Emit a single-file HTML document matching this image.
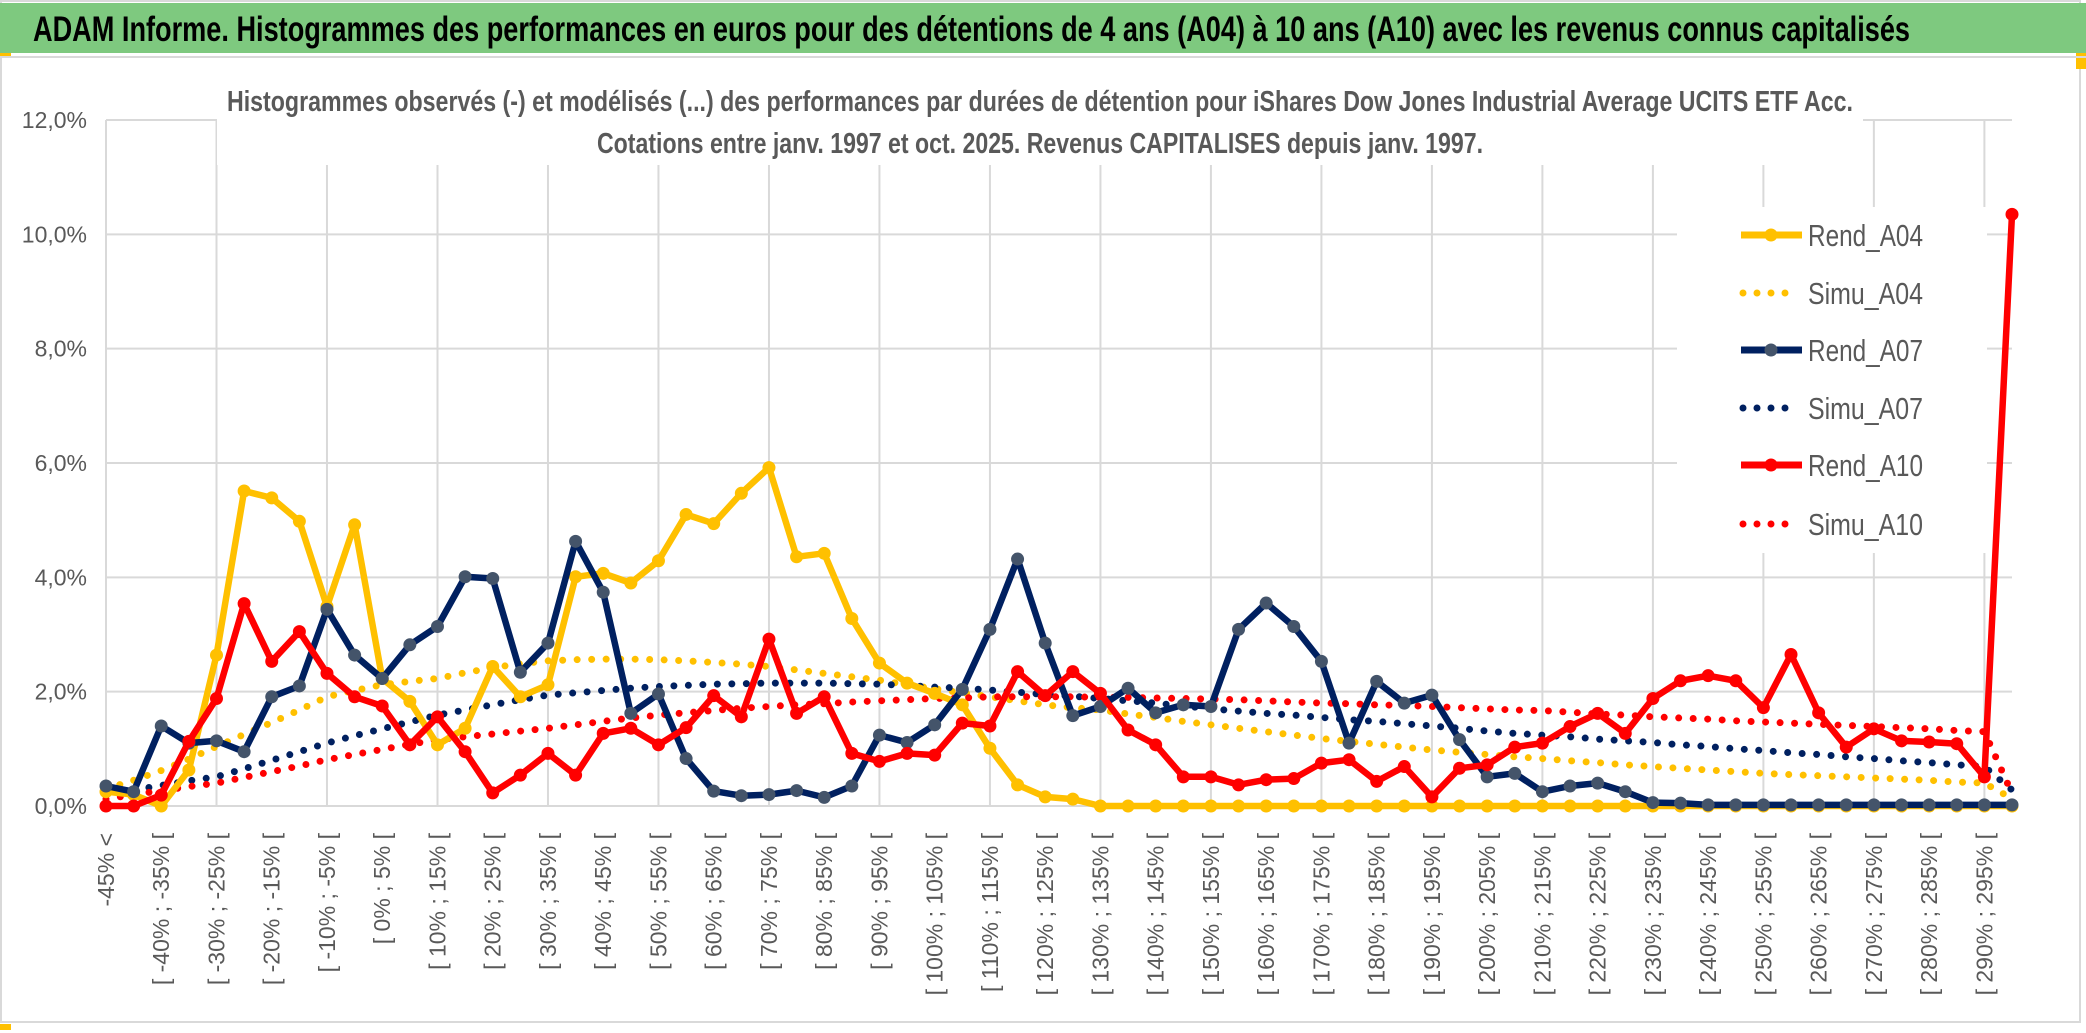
<!DOCTYPE html>
<html><head><meta charset="utf-8"><style>
html,body{margin:0;padding:0;background:#fff;}
svg{display:block;}
</style></head><body>
<svg id="chart" width="2086" height="1033" viewBox="0 0 2086 1033" xmlns="http://www.w3.org/2000/svg" font-family="'Liberation Sans Narrow','Liberation Sans',sans-serif">
  <rect x="0" y="0" width="2086" height="1033" fill="#fff"/>
  <rect x="1" y="1" width="2079" height="1021" fill="none" stroke="#d9d9d9" stroke-width="2"/>
  <rect x="0" y="3" width="2086" height="50" fill="#7ec97f"/>
  <rect x="0" y="53" width="11" height="3" fill="#ffc000"/>
  <rect x="2076" y="53" width="10" height="16" fill="#ffc000"/>
  <rect x="0" y="1024" width="11" height="6" fill="#ffc000"/>
  <line x1="0" y1="57" x2="2086" y2="57" stroke="#d9d9d9" stroke-width="2"/>
  <text x="33" y="41" font-size="35" font-weight="bold" fill="#000" textLength="1877" lengthAdjust="spacingAndGlyphs">ADAM Informe. Histogrammes des performances en euros pour des détentions de 4 ans (A04) à 10 ans (A10) avec les revenus connus capitalisés</text>
  <g id="plot"></g>
  <rect x="217" y="95" width="1646" height="70" fill="#fff"/>
  <text x="227" y="111" font-size="29" font-weight="bold" fill="#595959" textLength="1626" lengthAdjust="spacingAndGlyphs">Histogrammes observés (-) et modélisés (...) des performances par durées de détention pour iShares Dow Jones Industrial Average UCITS ETF Acc.</text>
  <text x="597" y="153" font-size="29" font-weight="bold" fill="#595959" textLength="886" lengthAdjust="spacingAndGlyphs">Cotations entre janv. 1997 et oct. 2025. Revenus CAPITALISES depuis janv. 1997.</text>
  <g id="legend"></g>
</svg>
<script>
const categories = (function(){const a=["-45% <"];for(let k=1;k<70;k++){if(k%2===0){const lo=-40+5*(k-2);a.push("[ "+lo+"% ; "+(lo+5)+"% [");}else{a.push("");}}return a;})();
const yTicks = [0,2,4,6,8,10,12];
const yTickLabels = ["0,0%","2,0%","4,0%","6,0%","8,0%","10,0%","12,0%"];
const rendA04 = [0.25,0.2,0,0.63,2.64,5.51,5.39,4.98,3.49,4.92,2.23,1.83,1.07,1.36,2.44,1.91,2.12,4.01,4.07,3.90,4.29,5.10,4.94,5.47,5.92,4.36,4.42,3.28,2.50,2.15,1.97,1.77,1.01,0.37,0.16,0.12,0,0,0,0,0,0,0,0,0,0,0,0,0,0,0,0,0,0,0,0,0,0,0,0,0,0,0,0,0,0,0,0,0,0];
const rendA07 = [0.35,0.25,1.40,1.10,1.14,0.95,1.91,2.10,3.44,2.64,2.23,2.82,3.14,4.01,3.98,2.34,2.85,4.63,3.74,1.62,1.96,0.83,0.26,0.18,0.20,0.27,0.15,0.35,1.24,1.11,1.42,2.04,3.09,4.32,2.85,1.58,1.74,2.06,1.63,1.77,1.74,3.09,3.55,3.14,2.53,1.10,2.18,1.80,1.94,1.16,0.51,0.57,0.25,0.35,0.40,0.25,0.06,0.05,0.02,0.02,0.02,0.02,0.02,0.02,0.02,0.02,0.02,0.02,0.02,0.02];
const rendA10 = [0,0,0.19,1.13,1.88,3.54,2.53,3.05,2.32,1.91,1.75,1.07,1.56,0.95,0.23,0.54,0.92,0.54,1.27,1.36,1.07,1.37,1.93,1.56,2.92,1.62,1.91,0.92,0.78,0.92,0.89,1.45,1.40,2.35,1.93,2.35,1.97,1.33,1.07,0.51,0.51,0.37,0.46,0.48,0.75,0.81,0.43,0.69,0.16,0.66,0.72,1.03,1.10,1.39,1.62,1.27,1.88,2.19,2.28,2.19,1.72,2.65,1.63,1.03,1.35,1.14,1.12,1.09,0.51,10.35];
const simuA04 = [0.30,0.45,0.62,0.82,1.04,1.25,1.46,1.68,1.91,2.02,2.12,2.18,2.23,2.33,2.42,2.49,2.54,2.56,2.57,2.57,2.56,2.54,2.51,2.48,2.44,2.38,2.32,2.26,2.20,2.12,2.05,1.98,1.91,1.84,1.77,1.72,1.68,1.61,1.55,1.48,1.42,1.36,1.30,1.24,1.18,1.13,1.08,1.03,0.98,0.94,0.90,0.86,0.83,0.79,0.76,0.72,0.69,0.66,0.63,0.60,0.57,0.55,0.53,0.51,0.49,0.47,0.45,0.42,0.40,0.13];
const simuA07 = [0.20,0.28,0.36,0.44,0.51,0.65,0.80,0.95,1.10,1.23,1.35,1.47,1.59,1.68,1.77,1.86,1.94,1.98,2.02,2.06,2.09,2.11,2.13,2.14,2.15,2.15,2.15,2.14,2.13,2.11,2.08,2.06,2.03,1.99,1.95,1.92,1.88,1.84,1.80,1.75,1.70,1.66,1.62,1.59,1.55,1.51,1.48,1.44,1.40,1.36,1.31,1.27,1.24,1.21,1.17,1.14,1.11,1.07,1.04,1.00,0.97,0.93,0.90,0.86,0.83,0.79,0.76,0.72,0.69,0.28];
const simuA10 = [0.12,0.20,0.27,0.34,0.40,0.50,0.60,0.70,0.81,0.90,0.99,1.08,1.16,1.21,1.26,1.31,1.36,1.42,1.48,1.54,1.59,1.63,1.67,1.71,1.74,1.77,1.79,1.82,1.84,1.86,1.88,1.89,1.91,1.91,1.91,1.91,1.90,1.90,1.89,1.88,1.87,1.86,1.84,1.82,1.80,1.79,1.77,1.76,1.74,1.72,1.70,1.68,1.67,1.64,1.61,1.59,1.56,1.54,1.52,1.49,1.47,1.45,1.43,1.41,1.39,1.37,1.35,1.32,1.30,0.22];
const seriesNames = ["Rend_A04","Simu_A04","Rend_A07","Simu_A07","Rend_A10","Simu_A10"];

const NS="http://www.w3.org/2000/svg";
const X0=106, X1=2012, Y0=806, Y12=120;
function xPos(i){return X0+i*(X1-X0)/(categories.length-1);}
function yPos(v){return Y0-(v/12)*(Y0-Y12);}
function mk(tag,attrs,parent){const e=document.createElementNS(NS,tag);for(const k in attrs)e.setAttribute(k,attrs[k]);parent.appendChild(e);return e;}
const plot=document.getElementById('plot');

yTicks.forEach((t,i)=>{
  const l=mk('line',{x1:X0,x2:X1,y1:yPos(t),y2:yPos(t),stroke:'#d9d9d9','stroke-width':2},plot);
  
  
  const tx=mk('text',{x:87,y:yPos(t)+8,'text-anchor':'end','font-size':23,fill:'#595959'},plot);
  
  
  tx.textContent=yTickLabels[i];
});
for(let i=0;i<categories.length;i+=4){
  const l=mk('line',{x1:xPos(i),x2:xPos(i),y1:Y12,y2:Y0,stroke:'#d9d9d9','stroke-width':2},plot);
  
  
}
categories.forEach((c,i)=>{
  if(!c)return;
  const x=xPos(i)+8, y=833;
  const t=mk('text',{x:x,y:y,transform:`rotate(-90 ${x} ${y})`,'text-anchor':'end','font-size':23,fill:'#595959','font-family':"'Liberation Sans',sans-serif"},plot);
  
  
  t.textContent=c;
});
function pts(arr){return arr.map((v,i)=>xPos(i).toFixed(1)+','+yPos(v).toFixed(1)).join(' ');}
function dotted(arr,color,name){
  const p=mk('polyline',{points:pts(arr),fill:'none',stroke:color,'stroke-width':7,'stroke-linecap':'round','stroke-dasharray':'0 14.5'},plot);
  
  
}
function solid(arr,color,mcolor,name){
  const g=mk('g',{},plot);
  
  
  mk('polyline',{points:pts(arr),fill:'none',stroke:color,'stroke-width':6.5,'stroke-linejoin':'round'},g);
  arr.forEach((v,i)=>{
    const c=mk('circle',{cx:xPos(i),cy:yPos(v),r:6.5,fill:mcolor},g);
    
    
  });
}
dotted(simuA04,'#ffc000','simu-a04-line');
dotted(simuA07,'#002060','simu-a07-line');
dotted(simuA10,'#ff0000','simu-a10-line');
solid(rendA04,'#ffc000','#ffc000','rend-a04-line');
solid(rendA07,'#002060','#44546a','rend-a07-line');
solid(rendA10,'#ff0000','#ff0000','rend-a10-line');

const lg=document.getElementById('legend');
mk('rect',{x:1677,y:207,width:310,height:346,fill:'#fff'},lg);
const legY=[235,293,350,408,465,524];
const legCol=['#ffc000','#ffc000','#002060','#002060','#ff0000','#ff0000'];
const legMk=['#ffc000','#ffc000','#44546a','#44546a','#ff0000','#ff0000'];
seriesNames.forEach((n,i)=>{
  const g=mk('g',{},lg);
  
  
  const y=legY[i];
  if(i%2===0){
    mk('line',{x1:1741,x2:1802,y1:y,y2:y,stroke:legCol[i],'stroke-width':7},g);
    mk('circle',{cx:1771,cy:y,r:6.5,fill:legMk[i]},g);
  } else {
    mk('line',{x1:1743,x2:1795,y1:y,y2:y,stroke:legCol[i],'stroke-width':7,'stroke-linecap':'round','stroke-dasharray':'0 14'},g);
  }
  const t=mk('text',{x:1808,y:y+11,'font-size':31,fill:'#595959',textLength:115,lengthAdjust:'spacingAndGlyphs'},g);
  t.textContent=n;
});
</script>
</body></html>
